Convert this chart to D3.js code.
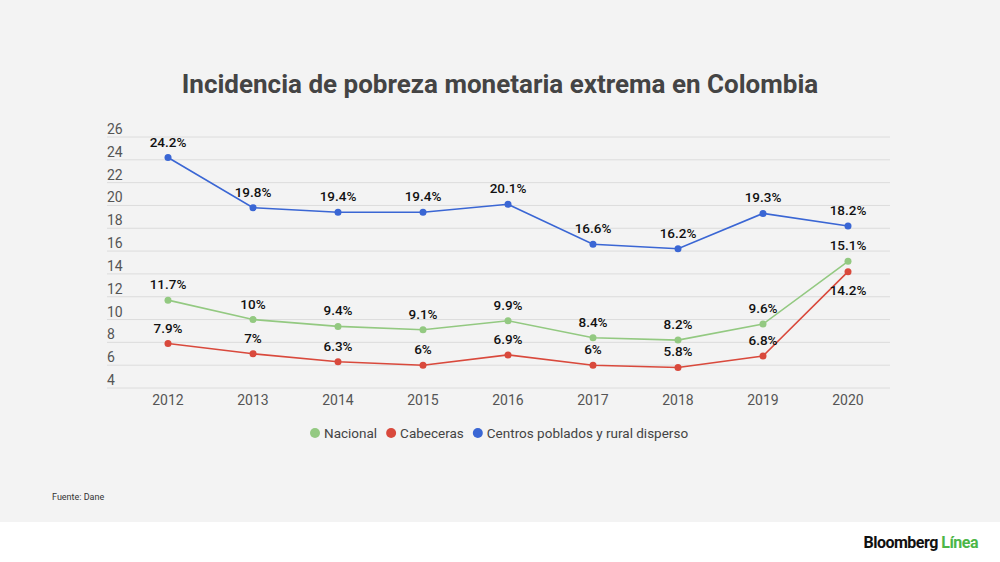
<!DOCTYPE html>
<html><head><meta charset="utf-8">
<script src="https://cdn.jsdelivr.net/npm/d3@7"></script>
<style>body{margin:0;background:#f3f3f3;font-family:Roboto,sans-serif}</style>
</head><body><div id="chart"></div>
<script>
const years = [2012, 2013, 2014, 2015, 2016, 2017, 2018, 2019, 2020]
const nacional = [11.7, 10, 9.4, 9.1, 9.9, 8.4, 8.2, 9.6, 15.1]
const cabeceras = [7.9, 7, 6.3, 6, 6.9, 6, 5.8, 6.8, 14.2]
const centros = [24.2, 19.8, 19.4, 19.4, 20.1, 16.6, 16.2, 19.3, 18.2]
const yTicks = [4, 6, 8, 10, 12, 14, 16, 18, 20, 22, 24, 26]

const width = 1000, height = 562
const svg = d3.select('#chart').append('svg').attr('width', width).attr('height', height)
svg.append('rect').attr('width', width).attr('height', height).attr('fill', '#f3f3f3')
svg.append('rect').attr('y', 522).attr('width', width).attr('height', 40).attr('fill', '#fff')

svg.append('text').attr('x', 500).attr('y', 93).attr('text-anchor', 'middle')
  .attr('font-size', 26).attr('font-weight', 'bold').attr('fill', '#444')
  .text('Incidencia de pobreza monetaria extrema en Colombia')

const x = d3.scalePoint().domain(years).range([168, 848])
const y = d3.scaleLinear().domain([4, 26]).range([388, 137])

const grid = svg.append('g')
yTicks.forEach(t => {
  grid.append('line').attr('x1', 107).attr('x2', 890).attr('y1', y(t)).attr('y2', y(t))
    .attr('stroke', '#dcdcdc').attr('stroke-width', 1)
  grid.append('text').attr('x', 107).attr('y', y(t) - 3).attr('font-size', 14)
    .attr('fill', '#555').text(t)
})
years.forEach(yr => {
  svg.append('text').attr('x', x(yr)).attr('y', 405).attr('text-anchor', 'middle')
    .attr('font-size', 14).attr('fill', '#555').text(yr)
})

const series = [
  { name: 'Nacional', values: nacional, color: '#93c981' },
  { name: 'Cabeceras', values: cabeceras, color: '#d9493c' },
  { name: 'Centros poblados y rural disperso', values: centros, color: '#3a66d4' }
]
const line = d3.line().x((d, i) => x(years[i])).y(d => y(d))
const fmt = v => v + '%'

series.forEach((s, si) => {
  svg.append('path').attr('d', line(s.values)).attr('fill', 'none')
    .attr('stroke', s.color).attr('stroke-width', 1.6)
  s.values.forEach((v, i) => {
    svg.append('circle').attr('cx', x(years[i])).attr('cy', y(v)).attr('r', 3.5).attr('fill', s.color)
    const below = si === 1 && i === 8
    svg.append('text').attr('x', x(years[i])).attr('y', below ? y(v) + 23 : y(v) - 11)
      .attr('text-anchor', 'middle').attr('font-size', 13.5).attr('font-weight', 500)
      .attr('fill', '#111').text(fmt(v))
  })
})

// legend
const leg = svg.append('g')
let lx = 310
series.forEach(s => {
  leg.append('circle').attr('cx', lx + 5).attr('cy', 433).attr('r', 5).attr('fill', s.color)
  const t = leg.append('text').attr('x', lx + 14).attr('y', 438).attr('font-size', 13.5)
    .attr('fill', '#444').text(s.name)
  lx += 14 + t.node().getComputedTextLength() + 9
})

svg.append('text').attr('x', 52).attr('y', 500).attr('font-size', 9).attr('fill', '#333').text('Fuente: Dane')

const logo = svg.append('text').attr('x', 978).attr('y', 548).attr('text-anchor', 'end')
  .attr('font-size', 16).attr('font-weight', 'bold').attr('letter-spacing', -0.5)
logo.append('tspan').attr('fill', '#111').text('Bloomberg ')
logo.append('tspan').attr('fill', '#4cb648').text('Línea')
</script></body></html>
